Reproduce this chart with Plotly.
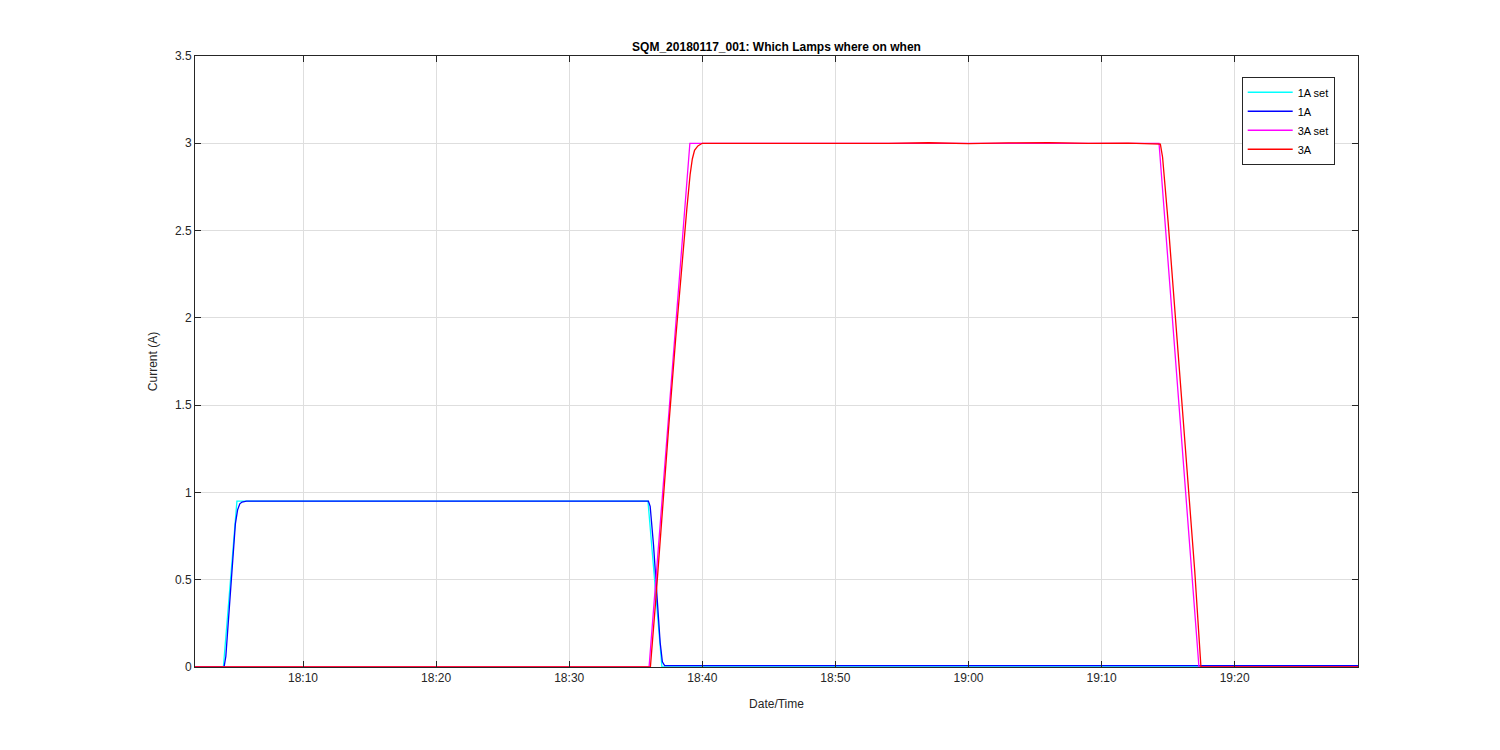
import plotly.graph_objects as go

DAY = "2018-01-17 "

# 1A set-point
t_1a_set = ["18:01:53", "18:04:01", "18:05:02", "18:35:55", "18:36:58", "19:29:16"]
v_1a_set = [0, 0, 0.95, 0.95, 0, 0]

# 1A measured
t_1a = ["18:01:53", "18:04:04", "18:04:12", "18:04:25", "18:04:40", "18:04:55", "18:05:05",
        "18:05:15", "18:05:25", "18:05:45", "18:35:57", "18:36:05", "18:36:20", "18:36:35",
        "18:36:50", "18:37:00", "18:37:10", "19:29:16"]
v_1a = [0, 0, 0.06, 0.30, 0.58, 0.82, 0.90, 0.935, 0.945, 0.95, 0.95, 0.92, 0.70, 0.42,
        0.14, 0.03, 0.008, 0.008]

# 3A set-point
t_3a_set = ["18:01:53", "18:36:00", "18:39:04", "19:14:19", "19:17:19", "19:29:16"]
v_3a_set = [0, 0, 3.0, 3.0, 0, 0]

# 3A measured
t_3a = ["18:01:53", "18:36:06", "18:36:30", "18:37:00", "18:37:30", "18:38:00", "18:38:30",
        "18:38:50", "18:39:05", "18:39:15", "18:39:25", "18:39:40", "18:40:00", "18:42:00",
        "18:45:00", "18:48:00", "18:51:00", "18:54:00", "18:57:00", "19:00:00", "19:03:00",
        "19:06:00", "19:09:00", "19:12:00", "19:14:25", "19:14:35", "19:15:00", "19:15:30",
        "19:16:00", "19:16:30", "19:17:00", "19:17:28", "19:29:16"]
v_3a = [0, 0, 0.38, 0.90, 1.40, 1.88, 2.35, 2.62, 2.82, 2.91, 2.96, 2.985, 3.0, 3.0,
        2.998, 3.002, 3.001, 2.999, 3.003, 2.998, 3.002, 3.004, 2.999, 3.001, 2.995,
        2.92, 2.55, 2.05, 1.55, 1.05, 0.55, 0.0, 0.0]

def ts(lst):
    return [DAY + s for s in lst]

fig = go.Figure()
fig.add_trace(go.Scatter(x=ts(t_1a_set), y=v_1a_set, mode="lines", name="1A set",
                         line=dict(color="#00FFFF", width=1.3)))
fig.add_trace(go.Scatter(x=ts(t_1a), y=v_1a, mode="lines", name="1A",
                         line=dict(color="#0000FF", width=1.3)))
fig.add_trace(go.Scatter(x=ts(t_3a_set), y=v_3a_set, mode="lines", name="3A set",
                         line=dict(color="#FF00FF", width=1.3)))
fig.add_trace(go.Scatter(x=ts(t_3a), y=v_3a, mode="lines", name="3A",
                         line=dict(color="#FF0000", width=1.3)))

axis_common = dict(
    showline=True, linecolor="#262626", linewidth=1, mirror="ticks",
    ticks="inside", ticklen=6, tickcolor="#262626",
    showgrid=True, gridcolor="#dedede", gridwidth=1, zeroline=False,
    tickfont=dict(size=12, color="#262626"),
)

fig.update_layout(
    width=1500, height=750,
    paper_bgcolor="white", plot_bgcolor="white",
    font=dict(family="Liberation Sans, Arial, sans-serif", color="#262626"),
    margin=dict(l=187, r=150, t=48, b=91),
    title=dict(text="<b>SQM_20180117_001: Which Lamps where on when</b>",
               x=0.5, xref="paper", xanchor="center",
               y=1, yref="paper", yanchor="bottom", pad=dict(b=5),
               font=dict(size=12, color="black")),
    xaxis=dict(axis_common, type="date",
               range=[DAY + "18:01:53", DAY + "19:29:16"],
               tick0=DAY + "18:00:00", dtick=600000, tickformat="%H:%M",
               title=dict(text="Date/Time", font=dict(size=12), standoff=15)),
    yaxis=dict(axis_common, range=[0, 3.5], dtick=0.5,
               tickvals=[0, 0.5, 1, 1.5, 2, 2.5, 3, 3.5],
               ticktext=["0", "0.5", "1", "1.5", "2", "2.5", "3", "3.5"],
               title=dict(text="Current (A)", font=dict(size=12), standoff=14)),
    legend=dict(x=0.9, y=0.966, xanchor="left", yanchor="top",
                bordercolor="#262626", borderwidth=1, bgcolor="white",
                font=dict(size=11, color="black"), tracegroupgap=0,
                itemwidth=45),
    showlegend=True,
)

fig.write_html("out.html")
